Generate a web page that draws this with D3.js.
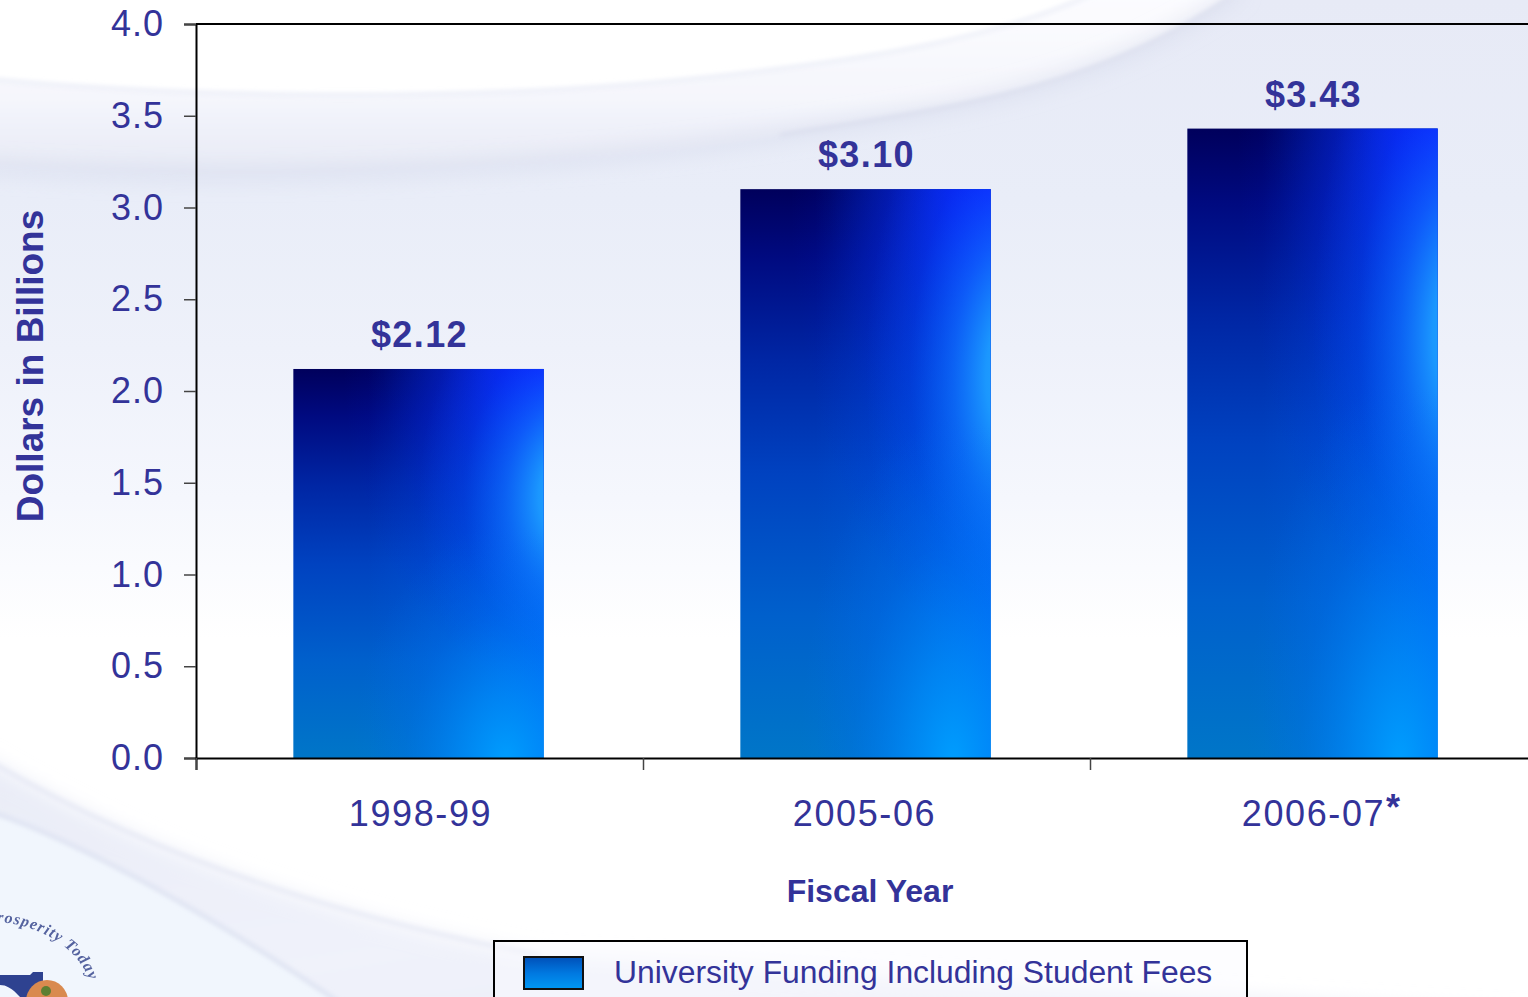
<!DOCTYPE html>
<html>
<head>
<meta charset="utf-8">
<script src="https://cdn.jsdelivr.net/npm/d3@7"></script>
<style>
    html, body { margin: 0; padding: 0; background: #fff; overflow: hidden; }
    text { font-family: "Liberation Sans", Arial, sans-serif; fill: #333399; }
</style>
</head>
<body>
<svg id="chart" width="1528" height="997"></svg>
<script>
const categories = ['1998-99', '2005-06', '2006-07'];
const funding = [2.12, 3.10, 3.43];
const value_labels = ['$2.12', '$3.10', '$3.43'];
const y_ticks = [0, 0.5, 1, 1.5, 2, 2.5, 3, 3.5, 4];
const legend_label = 'University Funding Including Student Fees';

const svg = d3.select('#chart');
const defs = svg.append('defs');

function add_gradient(type, id, attrs, stops) {
    const g = defs.append(type).attr('id', id);
    Object.keys(attrs).forEach(k => g.attr(k, attrs[k]));
    stops.forEach(s => g.append('stop')
        .attr('offset', s[0])
        .attr('stop-color', s[1])
        .attr('stop-opacity', s[2] === undefined ? 1 : s[2]));
}

// bar texture, stacked up from a vertical base and a few glows
add_gradient('linearGradient', 'bar-base', {x1: 0, y1: 0, x2: 0, y2: 1}, [
    [0, '#00005c'], [0.12, '#000a80'], [0.3, '#0026a4'], [0.5, '#0042c0'], [0.75, '#0060cc'], [1, '#0076c8']]);
add_gradient('radialGradient', 'bar-top', {cx: 1, cy: 0, r: 0.8, fx: 1, fy: 0}, [
    [0, '#1010ff'], [0.2, '#0c14f8', 0.85], [0.5, '#0818e8', 0.42], [0.8, '#0018d8', 0.1], [1, '#0018d8', 0]]);
add_gradient('radialGradient', 'bar-side', {cx: 1.1, cy: 0.33, r: 0.6, fx: 1.1, fy: 0.33}, [
    [0, '#24acff'], [0.2, '#1c9cff', 0.95], [0.42, '#1080ff', 0.6], [0.7, '#0068f8', 0.2], [1, '#0060f8', 0]]);
add_gradient('radialGradient', 'bar-bottom', {cx: 0.85, cy: 1.02, r: 0.62, fx: 0.85, fy: 1.02}, [
    [0, '#00a0ff'], [0.3, '#0090fa', 0.65], [0.65, '#0078f0', 0.22], [1, '#0070e8', 0]]);
add_gradient('linearGradient', 'bar-mid', {x1: 0, y1: 0, x2: 1, y2: 0}, [
    [0.3, '#0060f0', 0], [0.7, '#0068f8', 0.35], [1, '#0070ff', 0.8]]);

// background pieces
add_gradient('linearGradient', 'page', {x1: 0, y1: 0, x2: 0, y2: 1}, [
    [0, '#e7eaf6'], [0.2, '#e9edf8'], [0.35, '#eef1fa'], [0.5, '#f5f7fd'], [0.64, '#ffffff'], [1, '#ffffff']]);
add_gradient('linearGradient', 'band', {x1: 0, y1: 0, x2: 0, y2: 1}, [
    [0, '#fdfdff'], [0.6, '#f5f6fc'], [1, '#e6e9f5']]);
add_gradient('linearGradient', 'low-band', {x1: 0, y1: 0, x2: 1, y2: 1}, [
    [0, '#e9ecf7'], [0.5, '#f0f2fa'], [1, '#e9ecf6']]);

function add_blur(id, amount) {
    defs.append('filter').attr('id', id)
        .attr('x', '-10%').attr('y', '-30%').attr('width', '120%').attr('height', '160%')
        .append('feGaussianBlur').attr('stdDeviation', amount);
}
add_blur('soft', 2.5);
add_blur('softer', 10);
add_blur('fuzz', 0.5);

const curve_a = 'C150,95 450,105 700,78 C850,62 1000,40 1100,-10';
const curve_b = 'C200,182 480,180 780,135 C950,108 1100,90 1240,-10';
const curve_c = 'C120,840 300,910 540,955';
const curve_d = 'C80,840 220,920 350,1010';

const bg = svg.append('g');
bg.append('rect').attr('width', 1528).attr('height', 997).attr('fill', 'url(#page)');
// top swoosh, white wedge over a paler band
bg.append('path')
    .attr('d', 'M-20,-20 L1240,-20 L1240,-10 C1100,90 950,108 780,135 C480,180 200,182 -20,165 Z')
    .attr('fill', 'url(#band)').attr('filter', 'url(#soft)');
bg.append('path')
    .attr('d', 'M-20,-20 L1100,-20 L1100,-10 C1000,40 850,62 700,78 C450,105 150,95 -20,78 Z')
    .attr('fill', '#ffffff').attr('filter', 'url(#soft)');
bg.append('path')
    .attr('d', 'M-20,78 ' + curve_a)
    .attr('fill', 'none').attr('stroke', '#e8ebf6').attr('stroke-width', 3).attr('filter', 'url(#soft)');
bg.append('path')
    .attr('d', 'M-20,167 ' + curve_b)
    .attr('fill', 'none').attr('stroke', '#d3d8ea').attr('stroke-width', 7).attr('filter', 'url(#softer)');
bg.append('path')
    .attr('d', 'M780,135 C950,108 1100,90 1240,-10')
    .attr('fill', 'none').attr('stroke', '#d8dcec').attr('stroke-width', 3).attr('filter', 'url(#soft)');

// bottom swoosh
bg.append('path')
    .attr('d', 'M-20,755 ' + curve_c + ' L1600,1020 L-20,1020 Z')
    .attr('fill', 'url(#low-band)').attr('filter', 'url(#softer)');
bg.append('path')
    .attr('d', 'M-20,808 ' + curve_d + ' L-20,1010 Z')
    .attr('fill', '#f1f6fd').attr('filter', 'url(#soft)');
bg.append('path')
    .attr('d', 'M-20,755 ' + curve_c)
    .attr('fill', 'none').attr('stroke', '#e1e4f2').attr('stroke-width', 3).attr('filter', 'url(#soft)');
bg.append('path')
    .attr('d', 'M-20,808 ' + curve_d)
    .attr('fill', 'none').attr('stroke', '#d6dbed').attr('stroke-width', 3).attr('filter', 'url(#soft)');

const margin = {left: 196, top: 24, bottom: 758, right: 1537};

const y = d3.scaleLinear().domain([0, 4]).range([margin.bottom, margin.top]);
const x = d3.scaleBand().domain(categories).range([margin.left - 1, margin.right - 1]).paddingInner(0.44).paddingOuter(0.22);
// tick marks sit on the category boundaries, not the centers
const x_bound = d3.scaleLinear().domain([0, 3]).range([margin.left, margin.right]);

const layers = ['bar-base', 'bar-mid', 'bar-top', 'bar-side', 'bar-bottom'];
const bars = svg.append('g').selectAll('g')
    .data(categories)
    .join('g');
layers.forEach(layer => {
    bars.append('rect')
        .attr('x', d => x(d))
        .attr('y', (d, i) => y(funding[i]))
        .attr('width', x.bandwidth())
        .attr('height', (d, i) => y(0) - y(funding[i]))
        .attr('fill', 'url(#' + layer + ')');
});

svg.append('g').selectAll('text')
    .data(value_labels)
    .join('text')
    .attr('x', (d, i) => x(categories[i]) + x.bandwidth() / 2 + 1)
    .attr('y', (d, i) => y(funding[i]) - 22)
    .attr('text-anchor', 'middle')
    .attr('font-size', '36px')
    .attr('font-weight', 'bold')
    .attr('letter-spacing', '1.4px')
    .text(d => d);

// axes
const y_axis = d3.axisLeft(y).tickValues(y_ticks).tickSize(12).tickPadding(20).tickFormat(d3.format('.1f'));
const y_g = svg.append('g').attr('transform', 'translate(' + margin.left + ',0)').call(y_axis);
y_g.select('.domain').attr('stroke', '#000').attr('stroke-width', 2);
y_g.selectAll('.tick line').attr('stroke', '#444').attr('stroke-width', 1.5);
y_g.selectAll('.tick text').attr('font-size', '36px').attr('letter-spacing', '1px')
    .attr('font-family', null).style('fill', '#333399');

const x_axis = d3.axisBottom(x_bound).tickValues([0, 1, 2]).tickSize(12).tickFormat('');
const x_g = svg.append('g').attr('transform', 'translate(0,' + margin.bottom + ')').call(x_axis);
x_g.select('.domain').attr('stroke', '#000').attr('stroke-width', 2);
x_g.selectAll('.tick line').attr('stroke', '#444').attr('stroke-width', 1.5);

svg.append('line')
    .attr('x1', margin.left).attr('x2', margin.right)
    .attr('y1', margin.top).attr('y2', margin.top)
    .attr('stroke', '#000').attr('stroke-width', 2);

svg.append('g').selectAll('text')
    .data(categories)
    .join('text')
    .attr('x', (d, i) => x(d) + x.bandwidth() / 2 + [2, -1, 1][i])
    .attr('y', 826)
    .attr('text-anchor', 'middle')
    .attr('font-size', '36px')
    .attr('letter-spacing', '1.6px')
    .text(d => d);
svg.append('text')
    .attr('x', 1386).attr('y', 820)
    .attr('font-size', '36px')
    .attr('font-weight', 'bold')
    .text('*');

svg.append('text')
    .attr('x', 870).attr('y', 902)
    .attr('text-anchor', 'middle')
    .attr('font-size', '32px')
    .attr('font-weight', 'bold')
    .text('Fiscal Year');

svg.append('text')
    .attr('transform', 'translate(43,366) rotate(-90)')
    .attr('text-anchor', 'middle')
    .attr('font-size', '37px')
    .attr('font-weight', 'bold')
    .text('Dollars in Billions');

// legend, cut off by the bottom of the picture
svg.append('rect')
    .attr('x', 494).attr('y', 941)
    .attr('width', 753).attr('height', 80)
    .attr('fill', '#fafbfe').attr('fill-opacity', 0.45)
    .attr('stroke', '#000').attr('stroke-width', 2);
add_gradient('linearGradient', 'swatch', {x1: 0, y1: 0, x2: 0, y2: 1}, [
    [0, '#004fb8'], [0.5, '#0078e0'], [1, '#0098f4']]);
svg.append('rect')
    .attr('x', 524).attr('y', 957)
    .attr('width', 59).attr('height', 32)
    .attr('fill', 'url(#swatch)')
    .attr('stroke', '#111').attr('stroke-width', 2);
svg.append('text')
    .attr('x', 614).attr('y', 983)
    .attr('font-size', '31.85px')
    .text(legend_label);

// logo corner
const logo = svg.append('g').attr('filter', 'url(#fuzz)');
defs.append('path').attr('id', 'logo-arc').attr('d', 'M-14,922 C30,920 85,945 92,992');
logo.append('text')
    .style('font-family', '"Liberation Serif", serif')
    .attr('font-size', '16px')
    .attr('font-style', 'italic')
    .attr('font-weight', 'bold')
    .attr('letter-spacing', '1px')
    .style('fill', '#55639f')
    .append('textPath')
    .attr('href', '#logo-arc')
    .text('Prosperity Today');
logo.append('path')
    .attr('d', 'M0,975 L30,975 L33,972 L43,972 L43,986 L30,997 L20,997 C12,988 6,985 0,985 Z')
    .attr('fill', '#2f4390');
logo.append('circle').attr('cx', 47).attr('cy', 1001).attr('r', 21).attr('fill', '#d98a50');
logo.append('circle').attr('cx', 46).attr('cy', 991).attr('r', 5).attr('fill', '#5c7f32');
</script>
</body>
</html>
